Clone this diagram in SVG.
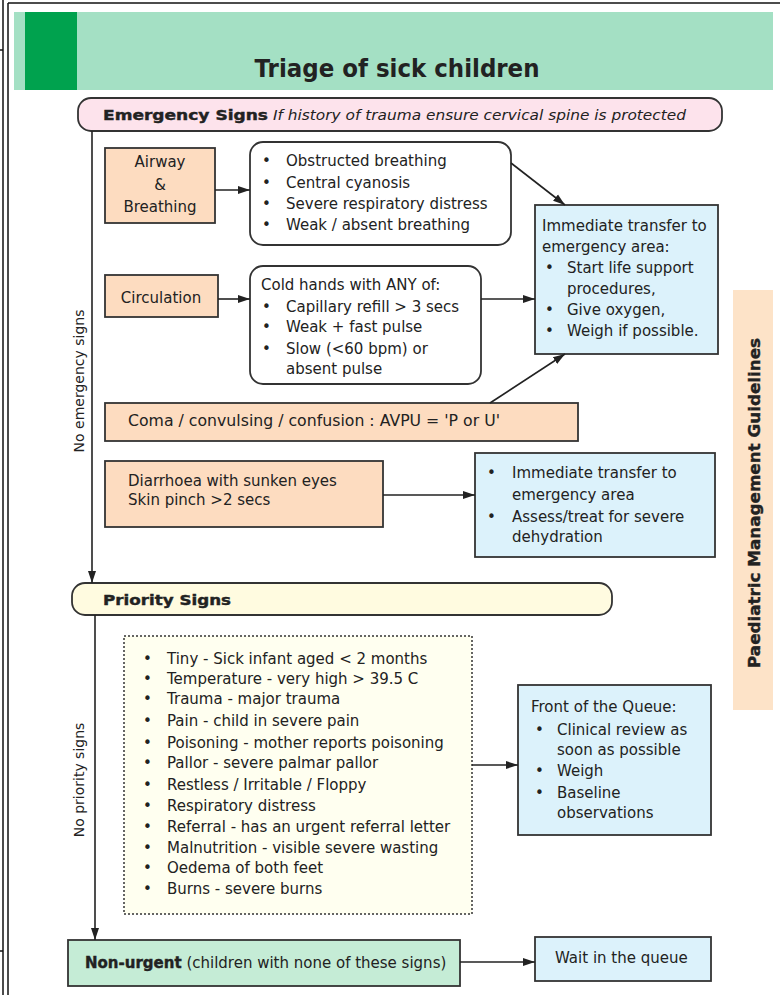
<svg xmlns="http://www.w3.org/2000/svg" width="780" height="995" viewBox="0 0 780 995">
<defs>
<marker id="ah" viewBox="0 0 12 10" refX="12" refY="5" markerWidth="12" markerHeight="10" markerUnits="userSpaceOnUse" orient="auto">
<path d="M0,1 L12,5 L0,9 Z" fill="#222"/>
</marker>
<style>
text{font-family:"DejaVu Sans","Liberation Sans",sans-serif;font-size:15px;fill:#222}
.b{font-weight:bold;stroke:#222;stroke-width:0.4}
.it{font-style:italic;font-size:14px}
.peach{fill:#fddcc0;stroke:#333;stroke-width:1.8}
.blue{fill:#dcf2fb;stroke:#333;stroke-width:1.8}
.white{fill:#ffffff;stroke:#333;stroke-width:1.8}
.con{stroke:#222;stroke-width:1.6;fill:none;marker-end:url(#ah)}
.frame{stroke:#111;stroke-width:1.5;fill:none}
</style>
</defs>
<rect width="780" height="995" fill="#ffffff"/>
<g id="frame">
<line class="frame" x1="3" y1="0" x2="3" y2="995"/>
<line class="frame" x1="8" y1="3" x2="8" y2="995"/>
<line class="frame" x1="8" y1="3" x2="780" y2="3"/>
<line class="frame" x1="0" y1="50" x2="3" y2="50"/>
<line class="frame" x1="0" y1="951" x2="3" y2="951"/>
</g>
<g id="header">
<rect x="14" y="12" width="759" height="78" fill="#a4e0c4"/>
<rect x="25" y="12" width="52" height="78" fill="#00a24e"/>
<text x="397" y="77" text-anchor="middle" textLength="285" lengthAdjust="spacingAndGlyphs" style="font-size:25px;font-weight:bold;fill:#222">Triage of sick children</text>
</g>
<g id="emergency-signs">
<rect x="78" y="98" width="644" height="33" rx="13" fill="#fde3ec" stroke="#333" stroke-width="1.8"/>
<text class="b" x="103" y="120" textLength="165" lengthAdjust="spacingAndGlyphs" style="font-size:14px">Emergency Signs</text>
<text class="it" x="273" y="120" textLength="413" lengthAdjust="spacingAndGlyphs">If history of trauma ensure cervical spine is protected</text>
</g>
<g id="airway">
<rect class="peach" x="105" y="148" width="110" height="75"/>
<text x="160" y="167" text-anchor="middle">Airway</text>
<text x="160" y="190" text-anchor="middle">&amp;</text>
<text x="160" y="212" text-anchor="middle">Breathing</text>
</g>
<g id="airway-signs">
<rect class="white" x="250" y="142" width="261" height="103" rx="13"/>
<text x="262" y="166">•</text><text x="286" y="166">Obstructed breathing</text>
<text x="262" y="188">•</text><text x="286" y="188">Central cyanosis</text>
<text x="262" y="209">•</text><text x="286" y="209">Severe respiratory distress</text>
<text x="262" y="230">•</text><text x="286" y="230">Weak / absent breathing</text>
</g>
<g id="circulation">
<rect class="peach" x="105" y="275" width="113" height="42"/>
<text x="161" y="303" text-anchor="middle">Circulation</text>
</g>
<g id="circulation-signs">
<rect class="white" x="250" y="266" width="231" height="118" rx="13"/>
<text x="261" y="290">Cold hands with ANY of:</text>
<text x="262" y="312">•</text><text x="286" y="312">Capillary refill &gt; 3 secs</text>
<text x="262" y="332">•</text><text x="286" y="332">Weak + fast pulse</text>
<text x="262" y="354">•</text><text x="286" y="354">Slow (&lt;60 bpm) or</text>
<text x="286" y="374">absent pulse</text>
</g>
<g id="emergency-action">
<rect class="blue" x="535" y="205" width="183" height="149"/>
<text x="542" y="231">Immediate transfer to</text>
<text x="542" y="252">emergency area:</text>
<text x="545" y="273">•</text><text x="567" y="273">Start life support</text>
<text x="567" y="294">procedures,</text>
<text x="545" y="315">•</text><text x="567" y="315">Give oxygen,</text>
<text x="545" y="336">•</text><text x="567" y="336">Weigh if possible.</text>
</g>
<g id="coma">
<rect class="peach" x="105" y="403" width="473" height="38"/>
<text x="128" y="426" textLength="372" lengthAdjust="spacingAndGlyphs">Coma / convulsing / confusion : AVPU = 'P or U'</text>
</g>
<g id="diarrhoea">
<rect class="peach" x="105" y="461" width="278" height="66"/>
<text x="128" y="486">Diarrhoea with sunken eyes</text>
<text x="128" y="505">Skin pinch &gt;2 secs</text>
</g>
<g id="dehydration-action">
<rect class="blue" x="475" y="453" width="240" height="104"/>
<text x="487" y="478">•</text><text x="512" y="478">Immediate transfer to</text>
<text x="512" y="500">emergency area</text>
<text x="487" y="522">•</text><text x="512" y="522">Assess/treat for severe</text>
<text x="512" y="542">dehydration</text>
</g>
<g id="priority-signs">
<rect x="72" y="583" width="540" height="32" rx="13" fill="#fffbe0" stroke="#333" stroke-width="1.8"/>
<text class="b" x="103" y="605" textLength="128" lengthAdjust="spacingAndGlyphs" style="font-size:14px">Priority Signs</text>
</g>
<g id="priority-list">
<rect x="124" y="636" width="348" height="278" fill="#fffff0" stroke="#333" stroke-width="1.5" stroke-dasharray="2,2"/>
<text x="143" y="664">•</text><text x="167" y="664">Tiny - Sick infant aged &lt; 2 months</text>
<text x="143" y="684">•</text><text x="167" y="684">Temperature - very high &gt; 39.5 C</text>
<text x="143" y="704">•</text><text x="167" y="704">Trauma - major trauma</text>
<text x="143" y="726">•</text><text x="167" y="726">Pain - child in severe pain</text>
<text x="143" y="748">•</text><text x="167" y="748">Poisoning - mother reports poisoning</text>
<text x="143" y="768">•</text><text x="167" y="768">Pallor - severe palmar pallor</text>
<text x="143" y="790">•</text><text x="167" y="790">Restless / Irritable / Floppy</text>
<text x="143" y="811">•</text><text x="167" y="811">Respiratory distress</text>
<text x="143" y="832">•</text><text x="167" y="832">Referral - has an urgent referral letter</text>
<text x="143" y="853">•</text><text x="167" y="853">Malnutrition - visible severe wasting</text>
<text x="143" y="873">•</text><text x="167" y="873">Oedema of both feet</text>
<text x="143" y="894">•</text><text x="167" y="894">Burns - severe burns</text>
</g>
<g id="front-of-queue">
<rect class="blue" x="518" y="685" width="193" height="150"/>
<text x="531" y="712">Front of the Queue:</text>
<text x="535" y="735">•</text><text x="557" y="735">Clinical review as</text>
<text x="557" y="755">soon as possible</text>
<text x="535" y="776">•</text><text x="557" y="776">Weigh</text>
<text x="535" y="798">•</text><text x="557" y="798">Baseline</text>
<text x="557" y="818">observations</text>
</g>
<g id="non-urgent">
<rect x="68" y="940" width="392" height="46" fill="#c5ecd6" stroke="#333" stroke-width="1.8"/>
<text x="85" y="968"><tspan class="b">Non-urgent</tspan> (children with none of these signs)</text>
</g>
<g id="wait-queue">
<rect class="blue" x="535" y="937" width="176" height="44"/>
<text x="555" y="963">Wait in the queue</text>
</g>
<g id="sidebar">
<rect x="733" y="290" width="40" height="420" fill="#fde3c8"/>
<text class="b" transform="translate(760,503) rotate(-90)" text-anchor="middle" textLength="330" lengthAdjust="spacingAndGlyphs" style="font-size:16px">Paediatric Management Guidelines</text>
</g>
<g id="connectors">
<line class="con" x1="92" y1="131" x2="92" y2="583"/>
<line class="con" x1="95" y1="615" x2="95" y2="940"/>
<line class="con" x1="215" y1="190" x2="250" y2="190"/>
<line class="con" x1="218" y1="299" x2="250" y2="299"/>
<line class="con" x1="511" y1="163" x2="565" y2="205"/>
<line class="con" x1="481" y1="299" x2="535" y2="299"/>
<line class="con" x1="490" y1="403" x2="565" y2="354"/>
<line class="con" x1="383" y1="495" x2="475" y2="495"/>
<line class="con" x1="472" y1="765" x2="518" y2="765"/>
<line class="con" x1="460" y1="962" x2="535" y2="962"/>
<text transform="translate(84,381) rotate(-90)" text-anchor="middle" style="font-size:14px">No emergency signs</text>
<text transform="translate(84,780) rotate(-90)" text-anchor="middle" style="font-size:14px">No priority signs</text>
</g>
</svg>
